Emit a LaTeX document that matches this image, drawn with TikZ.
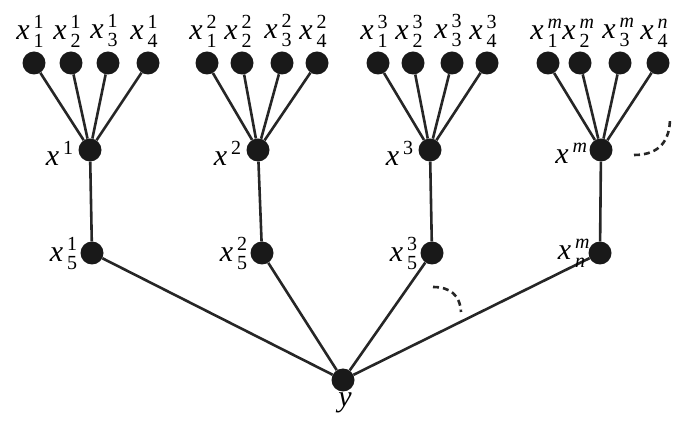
\documentclass[tikz,border=0pt]{standalone}
\usepackage{fontspec}
\setmainfont{Liberation Serif}
\newcommand\scr[1]{{\fontsize{20}{20}\selectfont #1}}
\newcommand\xl[2]{\textit{x}\hspace{4pt}\makebox[0pt][l]{\raisebox{11pt}{\scr{#1}}}\raisebox{-8pt}{\scr{#2}}}
\newcommand\xh[1]{\textit{x}\hspace{4pt}\raisebox{11pt}{\scr{#1}}}
\begin{document}
\begin{tikzpicture}[x=1pt,y=-1pt,
  dot/.style={circle,fill=black!90,minimum size=23pt,inner sep=0pt},
  edge/.style={line width=2.6pt,draw=black!85},
  lab/.style={font=\fontsize{30}{30}\selectfont,inner sep=0pt},
  dsh/.style={line width=2.6pt,dash pattern=on 6pt off 4pt,draw=black!85}]
\useasboundingbox (0,0) rectangle (683,427);
% leaves
\foreach \g/\xa/\xb/\xc/\xd in {1/34/71/108/148, 2/207/242/282/317, 3/378/413/452/487, m/548/580/620/658}{
  \node[dot] (l\g a) at (\xa,63) {};
  \node[dot] (l\g b) at (\xb,63) {};
  \node[dot] (l\g c) at (\xc,63) {};
  \node[dot] (l\g d) at (\xd,63) {};
}
\node[dot] (h1) at (90,150) {};
\node[dot] (h2) at (258,150) {};
\node[dot] (h3) at (430,150) {};
\node[dot] (hm) at (601,150) {};
\node[dot] (b1) at (92,253) {};
\node[dot] (b2) at (262,253) {};
\node[dot] (b3) at (432,253) {};
\node[dot] (bm) at (600,253) {};
\node[dot] (y) at (343,380) {};
% edges
\foreach \g in {1,2,3,m}{
  \foreach \l in {a,b,c,d}{\draw[edge] (l\g\l) -- (h\g);}
  \draw[edge] (h\g) -- (b\g);
  \draw[edge] (b\g) -- (y);
}
% top labels
\foreach \g/\s in {1/1,2/2,3/3}{
  \node[lab] at ([xshift=-4pt,yshift=4pt]l\g a.north) [anchor=south] {\xl{\s}{1}};
  \node[lab] at ([xshift=-4pt,yshift=4pt]l\g b.north) [anchor=south] {\xl{\s}{2}};
  \node[lab] at ([xshift=-4pt,yshift=4pt]l\g c.north) [anchor=south] {\xl{\s}{3}};
  \node[lab] at ([xshift=-4pt,yshift=4pt]l\g d.north) [anchor=south] {\xl{\s}{4}};
}
\node[lab] at ([xshift=-4pt,yshift=4pt]lma.north) [anchor=south] {\xl{\textit{m}}{1}};
\node[lab] at ([xshift=-4pt,yshift=4pt]lmb.north) [anchor=south] {\xl{\textit{m}}{2}};
\node[lab] at ([xshift=-4pt,yshift=4pt]lmc.north) [anchor=south] {\xl{\textit{m}}{3}};
\node[lab] at ([xshift=-4pt,yshift=4pt]lmd.north) [anchor=south] {\xl{\textit{n}}{4}};
% hub labels
\node[lab,anchor=east] at ([xshift=-5pt,yshift=-3pt]h1.west) {\xh{1}};
\node[lab,anchor=east] at ([xshift=-5pt,yshift=-3pt]h2.west) {\xh{2}};
\node[lab,anchor=east] at ([xshift=-5pt,yshift=-3pt]h3.west) {\xh{3}};
\node[lab,anchor=east] at ([xshift=-2pt,yshift=-3pt]hm.west) {\xh{\textit{m}}};
% lower labels
\node[lab,anchor=east] at ([xshift=-3pt,yshift=0pt]b1.west) {\xl{1}{5}};
\node[lab,anchor=east] at ([xshift=-3pt,yshift=0pt]b2.west) {\xl{2}{5}};
\node[lab,anchor=east] at ([xshift=-3pt,yshift=0pt]b3.west) {\xl{3}{5}};
\node[lab,anchor=east] at ([xshift=-3pt,yshift=0pt]bm.west) {\xl{\textit{m}}{\textit{n}}};
\node[lab,anchor=north] at ([xshift=2pt,yshift=-1pt]y.south) {\textit{y}};
% dashed arcs
\draw[dsh] (634,155) .. controls (660,155) and (670,140) .. (670,118);
\draw[dsh] (433,287) .. controls (450,287) and (460,295) .. (461,312);
\end{tikzpicture}
\end{document}
